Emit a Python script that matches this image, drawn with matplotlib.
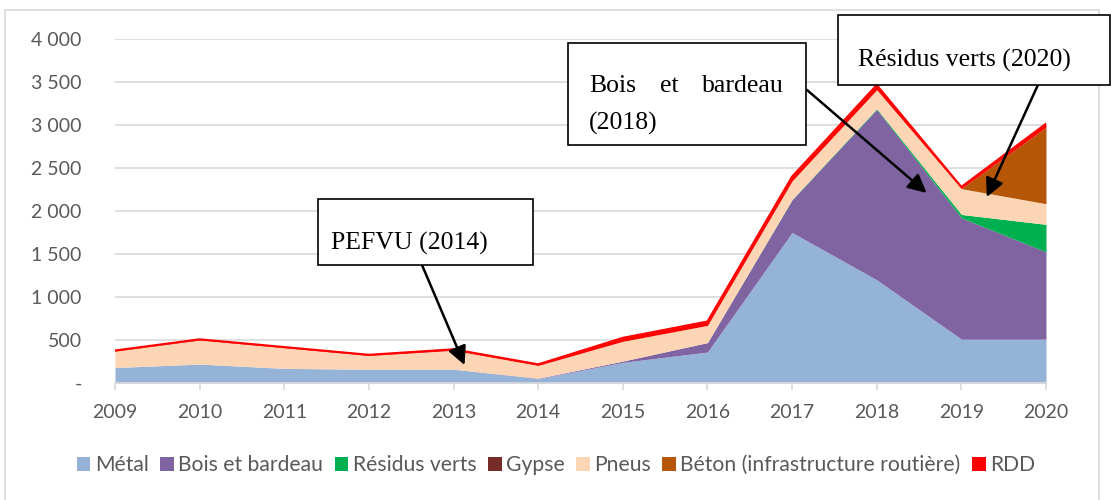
import numpy as np
import matplotlib.pyplot as plt
from matplotlib.patches import Rectangle

# données (tonnes)
annees = [2009, 2010, 2011, 2012, 2013, 2014, 2015, 2016, 2017, 2018, 2019, 2020]
metal = [180, 220, 170, 160, 160, 50, 240, 360, 1750, 1200, 510, 510]
bois = [0, 0, 0, 0, 0, 5, 15, 110, 380, 1980, 1410, 1015]
residus_verts = [0, 0, 0, 0, 0, 0, 0, 0, 5, 10, 40, 320]
gypse = [0, 0, 0, 0, 0, 0, 0, 0, 0, 0, 0, 0]
pneus = [190, 280, 240, 160, 220, 150, 230, 200, 215, 220, 300, 240]
beton = [0, 0, 0, 0, 0, 0, 0, 0, 0, 0, 0, 890]
rdd = [8, 8, 8, 8, 12, 12, 40, 45, 50, 55, 20, 40]

noms = ['Métal', 'Bois et bardeau', 'Résidus verts', 'Gypse', 'Pneus',
        'Béton (infrastructure routière)', 'RDD']
couleurs = ['#95b3d7', '#8064a2', '#00b050', '#772c2a', '#fcd5b5', '#b65708', '#ff0000']
series = [metal, bois, residus_verts, gypse, pneus, beton, rdd]

W, H = 1111, 500
fig = plt.figure(figsize=(W / 100, H / 100), dpi=100)
ax = fig.add_axes([115 / W, 1 - 383 / H, (1046 - 115) / W, (383 - 39) / H])

def fx(x):
    return x / W

def fy(y):
    return 1 - y / H

# cadre du graphique
fig.patches.append(Rectangle((fx(5), -0.1), fx(1099) - fx(5), fy(10) + 0.1,
                             transform=fig.transFigure, fill=False,
                             edgecolor='#d9d9d9', lw=1.2, zorder=0))

x = np.array(annees)
bas = np.zeros(len(x))
for nom, val, c in zip(noms, series, couleurs):
    val = np.array(val, dtype=float)
    ax.fill_between(x, bas, bas + val, color=c, lw=0, label=nom)
    bas = bas + val
ax.plot(x, bas, color='#ff0000', lw=1.5)

ax.set_xlim(2009, 2020)
ax.set_ylim(0, 4000)
ax.set_xticks(annees)
ax.set_yticks(range(0, 4001, 500))
ax.set_yticklabels(['-'] + [f'{v:,}'.replace(',', ' ') for v in range(500, 4001, 500)])
ax.grid(axis='y', color='#d9d9d9', lw=1.2)
ax.set_axisbelow(True)
for s in ['top', 'right', 'left']:
    ax.spines[s].set_visible(False)
ax.spines['bottom'].set_color('#d9d9d9')
ax.spines['bottom'].set_linewidth(1.2)
ax.tick_params(axis='y', length=0, pad=24, labelsize=14, labelcolor='#595959')
ax.tick_params(axis='x', length=5, width=1.2, color='#d9d9d9', direction='out',
               pad=10, labelsize=14, labelcolor='#595959')
for t in ax.get_xticklabels() + ax.get_yticklabels():
    t.set_fontfamily('Lato')

leg = ax.legend(loc='center', bbox_to_anchor=(fx(556), fy(465)),
                bbox_transform=fig.transFigure, ncol=7, frameon=False,
                handlelength=0.65, handleheight=0.65, handletextpad=0.2,
                columnspacing=0.55, prop={'family': 'Lato', 'size': 15.2})
for t in leg.get_texts():
    t.set_color('#595959')

# encadrés d'annotation
serif = 'Liberation Serif'
taille = 18.5
def boite(x0, y0, x1, y1):
    fig.patches.append(Rectangle((fx(x0), fy(y1)), fx(x1) - fx(x0), fy(y0) - fy(y1),
                                 transform=fig.transFigure, facecolor='white',
                                 edgecolor='black', lw=1.2, zorder=5))

boite(318, 199, 533, 265)
fig.text(fx(331), fy(243), 'PEFVU (2014)', family=serif, size=taille, va='center', zorder=6)

boite(568, 43, 806, 145)
fig.text(fx(589), fy(86), 'Bois', family=serif, size=taille, va='center', zorder=6)
fig.text(fx(669), fy(86), 'et', family=serif, size=taille, va='center', ha='center', zorder=6)
fig.text(fx(784), fy(86), 'bardeau', family=serif, size=taille, va='center', ha='right', zorder=6)
fig.text(fx(589), fy(123), '(2018)', family=serif, size=taille, va='center', zorder=6)

boite(838, 15, 1110, 85)
fig.text(fx(858), fy(60), 'Résidus verts (2020)', family=serif, size=taille, va='center', zorder=6)

fleche = dict(arrowstyle='-|>', mutation_scale=28, lw=1.8, color='black', shrinkA=0, shrinkB=0)
ax.annotate('', xy=(2013.13, 209), xytext=(fx(422), fy(265)),
            textcoords='figure fraction', arrowprops=fleche, zorder=7)
ax.annotate('', xy=(2018.59, 2210), xytext=(fx(807), fy(90)),
            textcoords='figure fraction', arrowprops=fleche, zorder=7)
ax.annotate('', xy=(2019.30, 2163), xytext=(fx(1042), fy(76)),
            textcoords='figure fraction', arrowprops=fleche, zorder=7)

fig.savefig('out.png', dpi=100)
